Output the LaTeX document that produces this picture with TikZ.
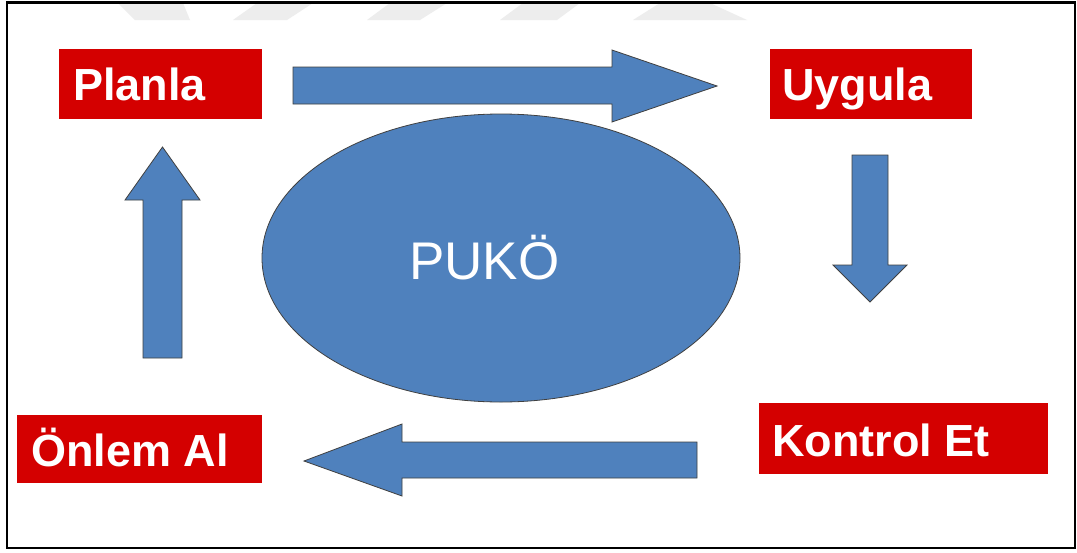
\documentclass[tikz,border=0pt]{standalone}
\usepackage{fontspec}
\setmainfont{Liberation Sans}
\usetikzlibrary{shapes.geometric}
\definecolor{stepred}{RGB}{212,0,0}
\definecolor{cycleblue}{RGB}{79,129,189}
\definecolor{markgray}{RGB}{237,237,237}
\tikzset{
  redbox/.style={fill=stepred, draw=none, rectangle, inner sep=0pt, anchor=north west},
  boxlabel/.style={text=white, inner sep=0pt, anchor=base west,
    font=\fontsize{45}{54}\selectfont\bfseries},
  blockarrow/.style={fill=cycleblue, draw=black!75, line width=0.8pt, line join=miter},
  markband/.style={fill=markgray, draw=none},
}
\begin{document}
\begin{tikzpicture}[x=1pt,y=-1pt]
\useasboundingbox (0,0) rectangle (1077,552);
\fill[white] (0,0) rectangle (1077,552);

% faint bands along the top edge
\fill[markband] (118,3) -- (183,3) -- (190,20) -- (135,20) -- cycle;
\fill[markband] (257,3) -- (313,3) -- (287,20) -- (233,20) -- cycle;
\fill[markband] (390,3) -- (447,3) -- (420,20) -- (367,20) -- cycle;
\fill[markband] (523,3) -- (580,3) -- (557,20) -- (500,20) -- cycle;
\fill[markband] (660,3) -- (710,3) -- (747,20) -- (633,20) -- cycle;

% outer frame
\draw[line width=2.5pt] (7,2.5) rectangle (1075,548);

% central ellipse
\node[ellipse, fill=cycleblue, draw=black!75, line width=0.8pt, inner sep=0pt,
      minimum width=478pt, minimum height=288pt] (puko) at (501,258) {};
\node[text=white, inner sep=0pt, anchor=base west,
      font=\fontsize{53}{60}\selectfont] (pukotext) at (409,279) {PUKÖ};

% step boxes
\node[redbox, minimum width=203pt, minimum height=70pt] (plan) at (59,49) {};
\node[boxlabel] (plantext) at (73,100) {Planla};

\node[redbox, minimum width=202pt, minimum height=70pt] (do) at (770,49) {};
\node[boxlabel] (dotext) at (782,100) {Uygula};

\node[redbox, minimum width=289pt, minimum height=71pt] (check) at (759,403) {};
\node[boxlabel] (checktext) at (772,456) {Kontrol Et};

\node[redbox, minimum width=245pt, minimum height=68pt] (act) at (17,415) {};
\node[boxlabel] (acttext) at (31,466) {Önlem Al};

% block arrows of the cycle
\draw[blockarrow] (293,67) -- (612,67) -- (612,50) -- (717,86) -- (612,122)
  -- (612,104) -- (293,104) -- cycle;
\draw[blockarrow] (852,155) -- (888,155) -- (888,265) -- (907,265) -- (870,302)
  -- (833,265) -- (852,265) -- cycle;
\draw[blockarrow] (697,442) -- (402,442) -- (402,424) -- (304,461) -- (402,496)
  -- (402,478) -- (697,478) -- cycle;
\draw[blockarrow] (143,358) -- (143,200) -- (125,200) -- (162.5,147) -- (200,200)
  -- (182,200) -- (182,358) -- cycle;
\end{tikzpicture}
\end{document}
